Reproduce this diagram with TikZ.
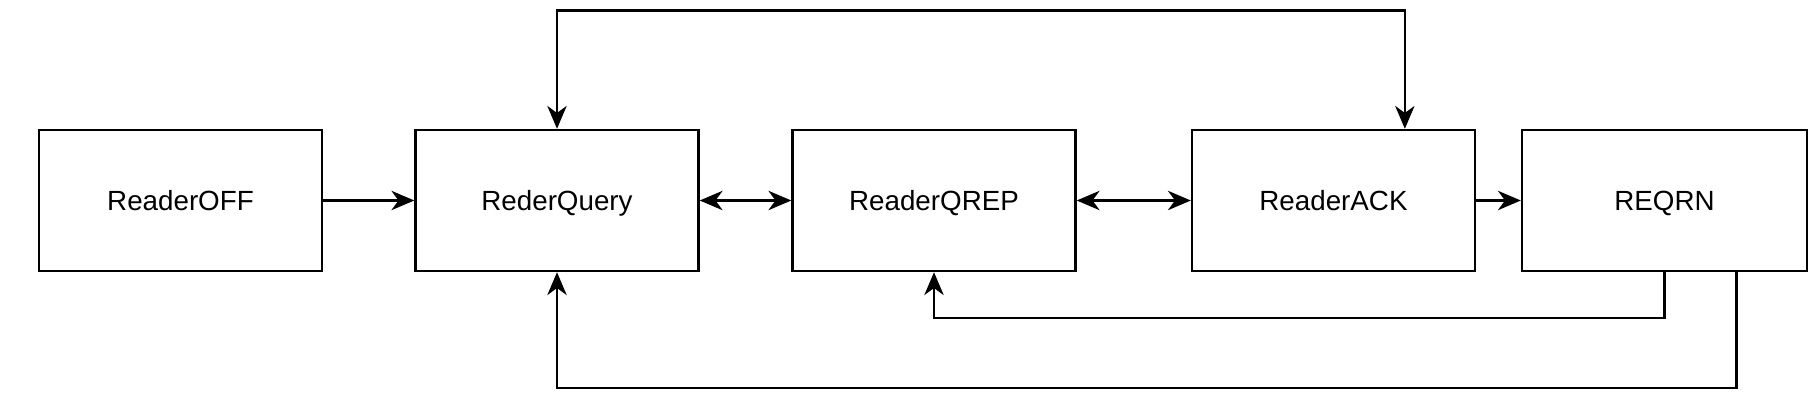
\documentclass[tikz,border=0pt]{standalone}
\usepackage{fontspec}
\setmainfont{Liberation Sans}
\usetikzlibrary{arrows.meta,calc}

\begin{document}
\begin{tikzpicture}[x=0.02cm,y=-0.02cm,
	statebox/.style={rectangle,draw,line width=1.4pt,minimum width=5.66cm,minimum height=2.82cm,text height=11.3pt,text depth=0pt,font=\fontsize{15.8}{19}\selectfont},
	link/.style={line width=1.4pt,-{Stealth[length=13pt,width=11pt,inset=4pt]}},
	dlink/.style={line width=1.4pt,{Stealth[length=13pt,width=11pt,inset=4pt]}-{Stealth[length=13pt,width=11pt,inset=4pt]}}]
	\useasboundingbox (0,0) rectangle (1815,415);
	
	\node[statebox] (off)   at (180.5,200.5)  {ReaderOFF};
	\node[statebox] (query) at (557,200.5)    {RederQuery};
	\node[statebox] (qrep)  at (934,200.5)    {ReaderQREP};
	\node[statebox] (ack)   at (1333.5,200.5) {ReaderACK};
	\node[statebox,minimum width=5.7cm] (reqrn) at (1664.5,200.5) {REQRN};
	
	\draw[link]  (off)  -- (query);
	\draw[dlink] (query) -- (qrep);
	\draw[dlink] (qrep) -- (ack);
	\draw[link]  (ack)  -- (reqrn);
	
	% loops over and under the row
	\draw[dlink] (query.north) -- ++(0,-118.5) -| ($(ack.north west)!0.75!(ack.north east)$);
	\draw[link]  (reqrn.south) -- ++(0,46) -| (qrep.south);
	\draw[link]  ($(reqrn.south west)!0.75!(reqrn.south east)$) -- ++(0,116) -| (query.south);
\end{tikzpicture}
\end{document}
